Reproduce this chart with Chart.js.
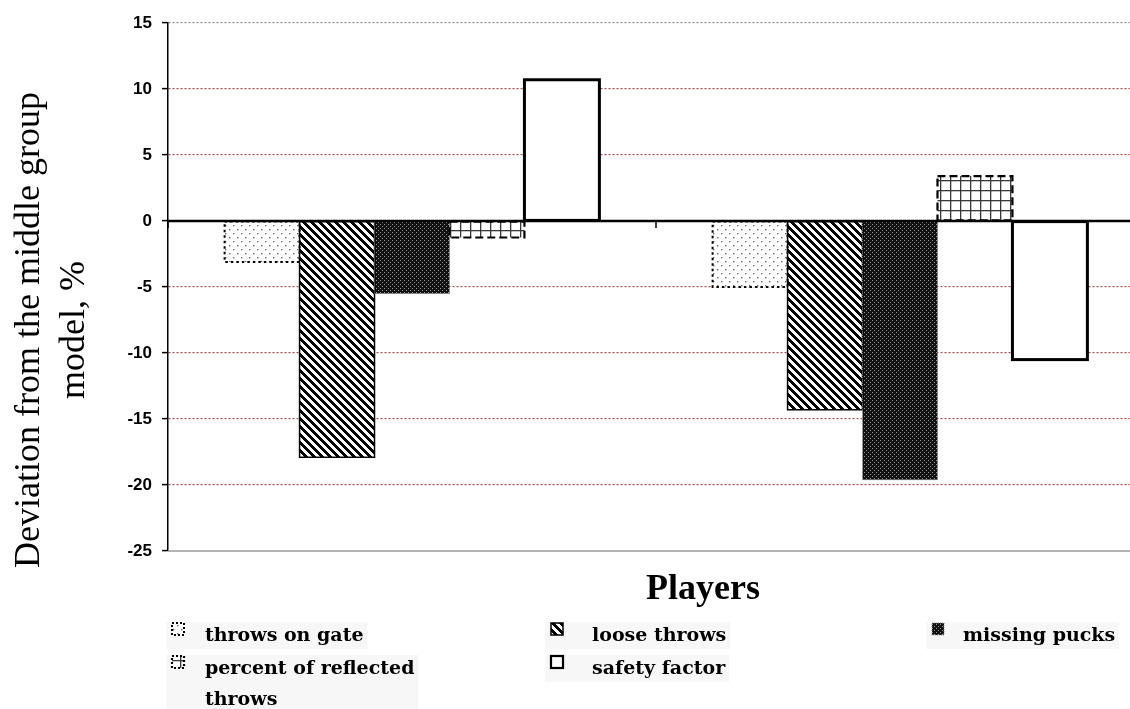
<!DOCTYPE html>
<html><head><meta charset="utf-8">
<script src="https://cdn.jsdelivr.net/npm/chart.js@4.4.0/dist/chart.umd.min.js"></script>
<style>html,body{margin:0;padding:0;background:#fff;overflow:hidden;width:1130px;height:709px}canvas{display:block}</style>
</head><body>
<canvas id="c" width="1160" height="709"></canvas>
<script>
// ---- data ----
const categories = ['Players group 1', 'Players group 2'];
const seriesNames = ['throws on gate', 'loose throws', 'missing pucks', 'percent of reflected throws', 'safety factor'];
const throwsOnGate = [-3.1, -5.0];
const looseThrows = [-17.9, -14.3];
const missingPucks = [-5.5, -19.6];
const percentReflected = [-1.25, 3.4];
const safetyFactor = [10.7, -10.5];
const yTicks = [15, 10, 5, 0, -5, -10, -15, -20, -25];
const yTitle = ['Deviation from the middle group', 'model, %'];
const xTitle = 'Players';

// ---- patterns ----
const canvas = document.getElementById('c');
const mainCtx = canvas.getContext('2d');
function tile(w, h, draw) {
  const c = document.createElement('canvas'); c.width = w; c.height = h;
  const g = c.getContext('2d'); draw(g, w, h);
  return mainCtx.createPattern(c, 'repeat');
}
const patDots = tile(8, 8, (g) => {
  g.fillStyle = '#fff'; g.fillRect(0, 0, 8, 8);
  g.fillStyle = '#6a6a6a'; g.fillRect(1, 1, 1.4, 1.4); g.fillRect(5, 5, 1.4, 1.4);
});
const patStripes = tile(8, 8, (g) => {
  g.fillStyle = '#fff'; g.fillRect(0, 0, 8, 8);
  g.fillStyle = '#000';
  for (let y = 0; y < 8; y++) for (let x = 0; x < 8; x++) {
    if (((x - y) % 8 + 8) % 8 < 4) g.fillRect(x, y, 1, 1);
  }
});
const patDense = tile(4, 4, (g) => {
  g.fillStyle = '#111'; g.fillRect(0, 0, 4, 4);
  g.fillStyle = '#9a9a9a'; g.fillRect(0, 0, 1, 1); g.fillRect(2, 2, 1, 1);
});
const patGrid = tile(10, 10, (g) => {
  g.fillStyle = '#fff'; g.fillRect(0, 0, 10, 10);
  g.fillStyle = '#3a3a3a'; g.fillRect(0, 0, 1.3, 10); g.fillRect(0, 0, 10, 1.3);
});
const fills = [patDots, patStripes, patDense, patGrid, '#ffffff'];
const borders = [
  { dash: [2.5, 3], width: 2, color: '#000' },
  { dash: [], width: 1.5, color: '#000' },
  { dash: [1, 1], width: 1, color: '#8a8a8a' },
  { dash: [8, 4], width: 2.2, color: '#000' },
  { dash: [], width: 3, color: '#000' }
];
const seriesValues = [throwsOnGate, looseThrows, missingPucks, percentReflected, safetyFactor];

// ---- plugin: outlines, zero line, titles, legend ----
const decor = {
  id: 'decor',
  afterDatasetsDraw(chart) {
    const ctx = chart.ctx, ca = chart.chartArea;
    const ys = chart.scales.y, xs = chart.scales.x;
    ctx.save();
    chart.data.datasets.forEach((ds, i) => {
      const b = borders[i];
      chart.getDatasetMeta(i).data.forEach(el => {
        const p = el.getProps(['x', 'y', 'base', 'width'], true);
        const left = p.x - p.width / 2, top = Math.min(p.y, p.base), h = Math.abs(p.base - p.y);
        ctx.setLineDash(b.dash); ctx.lineWidth = b.width; ctx.strokeStyle = b.color;
        ctx.strokeRect(left, top, p.width, h);
      });
    });
    ctx.setLineDash([]);
    const yb = ys.getPixelForValue(-25);
    ctx.strokeStyle = '#9a9a9a'; ctx.lineWidth = 1.5;
    ctx.beginPath(); ctx.moveTo(ca.left, yb); ctx.lineTo(chart.width, yb); ctx.stroke();
    const y0 = ys.getPixelForValue(0);
    ctx.strokeStyle = '#000'; ctx.lineWidth = 2.5;
    ctx.beginPath(); ctx.moveTo(ca.left - 1, y0); ctx.lineTo(chart.width, y0); ctx.stroke();
    const half = (xs.getPixelForValue(1) - xs.getPixelForValue(0)) / 2;
    ctx.lineWidth = 1.5;
    [xs.getPixelForValue(0) - half, xs.getPixelForValue(0) + half, xs.getPixelForValue(1) + half].forEach(x => {
      ctx.beginPath(); ctx.moveTo(x, y0); ctx.lineTo(x, y0 + 7); ctx.stroke();
    });
    ctx.restore();
  },
  afterDraw(chart) {
    const ctx = chart.ctx;
    ctx.save();
    ctx.fillStyle = '#000';
    ctx.font = '36px "Liberation Serif", "Times New Roman", serif';
    ctx.textAlign = 'center'; ctx.textBaseline = 'alphabetic';
    ctx.translate(39, 330); ctx.rotate(-Math.PI / 2);
    yTitle.forEach((t, i) => ctx.fillText(t, 0, i * 45));
    ctx.setTransform(1, 0, 0, 1, 0, 0);
    ctx.font = 'bold 36px "Liberation Serif", "Times New Roman", serif';
    ctx.fillText(xTitle, 703, 599);
    const pos = [
      { x: 172, y: 623, tx: 205, ty: 641 },
      { x: 551, y: 623, tx: 592, ty: 641 },
      { x: 932, y: 623, tx: 963, ty: 641 },
      { x: 172, y: 656, tx: 205, ty: 674 },
      { x: 551, y: 656, tx: 592, ty: 674 }
    ];
    ctx.font = 'bold 19px "DejaVu Serif", serif';
    ctx.textAlign = 'left';
    chart.data.datasets.forEach((ds, i) => {
      const p = pos[i];
      const words = ds.label.split(' '); const lines = []; let cur = '';
      words.forEach(w => {
        const t = cur ? cur + ' ' + w : w;
        if (ctx.measureText(t).width > 240 && cur) { lines.push(cur); cur = w; } else cur = t;
      });
      lines.push(cur);
      ctx.fillStyle = '#f7f7f7';
      const wmax = Math.max(...lines.map(l => ctx.measureText(l).width));
      ctx.fillRect(p.x - 6, p.ty - 19, p.tx - p.x + wmax + 10, lines.length * 31 - 4);
      const b = borders[i];
      ctx.fillStyle = fills[i];
      ctx.fillRect(p.x, p.y, 12, 12);
      ctx.setLineDash(b.dash.map(d => Math.min(d, 2))); ctx.lineWidth = Math.min(b.width, 2.2); ctx.strokeStyle = b.color;
      ctx.strokeRect(p.x, p.y, 12, 12);
      ctx.setLineDash([]);
      ctx.fillStyle = '#000';
      lines.forEach((l, k) => ctx.fillText(l, p.tx, p.ty + k * 31));
    });
    ctx.restore();
  }
};

new Chart(canvas, {
  type: 'bar',
  data: {
    labels: categories,
    datasets: seriesNames.map((n, i) => ({
      label: n,
      data: seriesValues[i],
      backgroundColor: fills[i],
      borderWidth: 0,
      categoryPercentage: 0.768,
      barPercentage: 1
    }))
  },
  options: {
    responsive: false,
    animation: false,
    layout: { padding: { top: 23, right: 16, bottom: 158, left: 0 } },
    plugins: { legend: { display: false }, tooltip: { enabled: false }, title: { display: false } },
    scales: {
      x: { display: false, grid: { display: false } },
      y: {
        min: -25, max: 15,
        afterBuildTicks: (s) => { s.ticks = yTicks.map(v => ({ value: v })); },
        afterFit: (s) => { s.width = 168; },
        ticks: {
          color: '#000', padding: 10,
          font: { family: '"Liberation Sans", Arial, sans-serif', weight: 'bold', size: 17 }
        },
        grid: {
          color: (c) => c.tick.value === 15 ? '#8c8c8c' : (c.tick.value === -25 ? 'rgba(0,0,0,0)' : '#a85050'),
          lineWidth: 1.2,
          tickLength: 6, tickColor: '#000', tickWidth: 1.5
        },
        border: { color: '#000', width: 1.5, dash: [2, 2] }
      }
    }
  },
  plugins: [decor]
});
</script>
</body></html>
